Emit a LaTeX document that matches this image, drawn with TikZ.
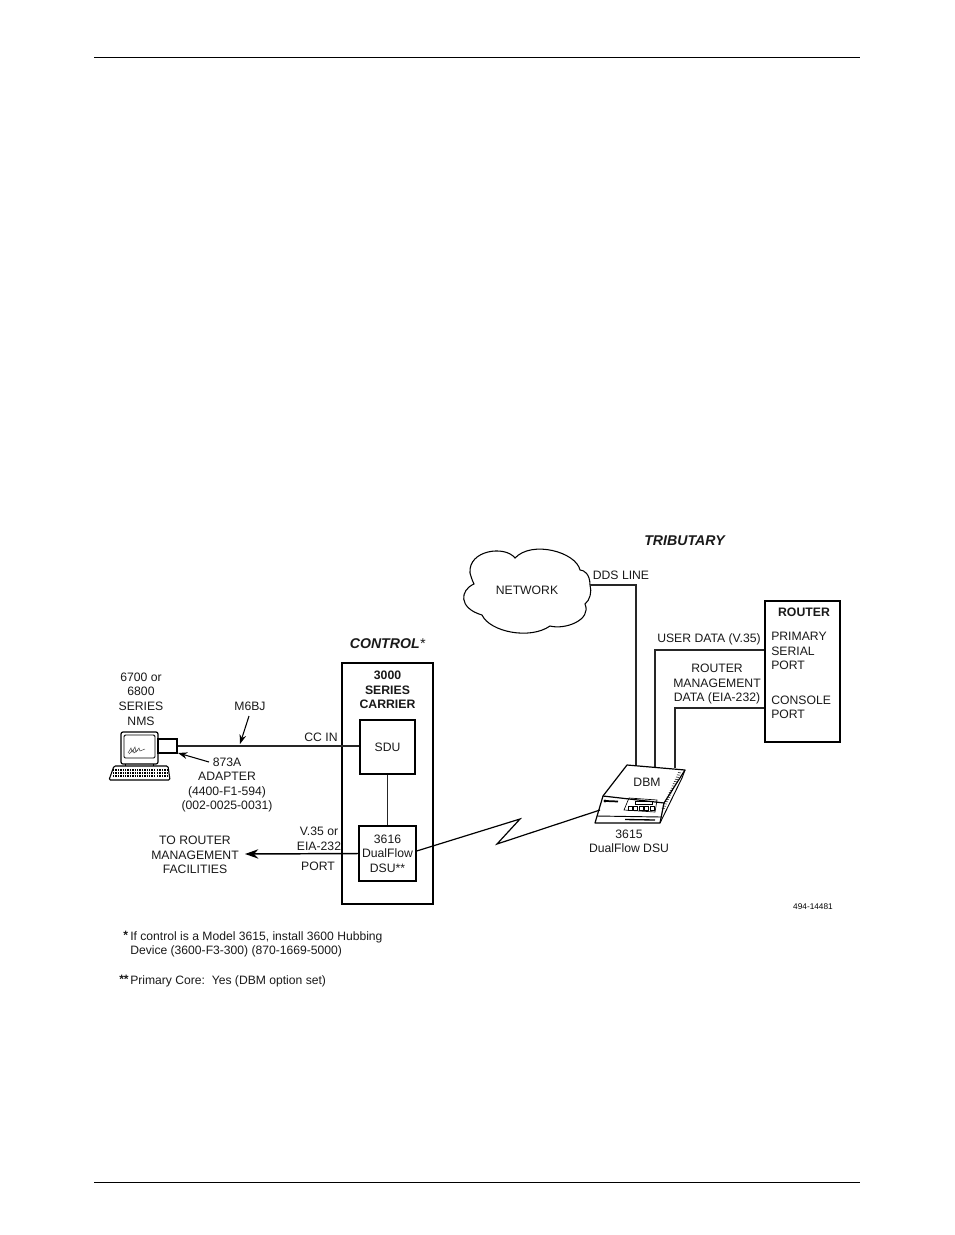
\documentclass[tikz,border=0pt]{standalone}
\usepackage{fontspec}
\setmainfont{Liberation Sans}
\usetikzlibrary{arrows.meta,calc}
\tikzset{
  x=0.75pt,y=-0.75pt,
  lab/.style={inner sep=0pt,align=center,font=\fontsize{9.15pt}{10.9pt}\selectfont,text=black!90},
  labl/.style={lab,align=left},
  note/.style={inner sep=0pt,anchor=north west,align=left,font=\fontsize{9.1pt}{10.6pt}\selectfont,text=black!90},
  small/.style={inner sep=0pt,font=\fontsize{6.2pt}{7pt}\selectfont},
  boxn/.style={draw,line width=1pt,inner sep=0pt},
  wire/.style={draw,line width=1.1pt,draw=black!85},
  rulet/.style={draw,line width=0.7pt},
  arr/.style={-{Stealth[length=7pt,width=5pt]},line width=0.8pt},
  arrb/.style={-{Stealth[length=10pt,width=7pt]},line width=1.1pt},
  title/.style={lab,font=\fontsize{10.6pt}{12pt}\selectfont\bfseries\itshape},
  boldl/.style={lab,font=\fontsize{9.2pt}{10.9pt}\selectfont\bfseries},
}
\begin{document}
\begin{tikzpicture}
\useasboundingbox (0,0) rectangle (954,1235);
\coordinate (tl) at (94,57); \coordinate (tr) at (860,57);
\coordinate (bl) at (94,1182); \coordinate (br) at (860,1182);
\draw[rulet] (tl) -- (tr);
\draw[rulet] (bl) -- (br);

% titles
\node[title] (trib) at (684.5,541) {TRIBUTARY};
\node[title] (ctrl) at (387.5,644) {CONTROL\textmd{*}};

% cloud
\coordinate (cloudout) at (590,585);
\draw[line width=0.8pt] (cloudout)
  .. controls (590,574) and (584,570) .. (580,570)
  .. controls (576,552) and (532,540) .. (515,558)
  .. controls (505,545) and (468,550) .. (470,573)
  .. controls (472,580) and (473,582) .. (474,584)
  .. controls (460,590) and (458,608) .. (482,615)
  .. controls (490,632) and (530,640) .. (550,626)
  .. controls (565,630) and (592,620) .. (585,604)
  .. controls (590,600) and (592,592) .. (590,585) -- cycle;
\node[lab] (net) at (527,590) {NETWORK};
\node[lab] (dds) at (621,575) {DDS LINE};

% router
\node[draw,line width=1.2pt,inner sep=0pt,minimum width=56.25pt,minimum height=105.75pt] (routerbox) at (802.5,671.5) {};
\node[boldl] (router) at (804,612) {ROUTER};
\node[labl,anchor=west] (pri) at (771,651) {PRIMARY\\SERIAL\\PORT};
\node[labl,anchor=west] (con) at (771,707.5) {CONSOLE\\PORT};
\node[lab] (ud) at (709,639) {USER DATA (V.35)};
\node[lab] (rm) at (717,684) {ROUTER\\MANAGEMENT\\DATA (EIA-232)};

% connections behind the DBM
\coordinate (dbmA) at (636,767);
\coordinate (dbmB) at (655,767);
\coordinate (dbmC) at (675,768);
\draw[wire] (cloudout) -| (dbmA);
\draw[wire] (dbmB) |- (routerbox.west |- 0,650);
\draw[wire] (dbmC) |- (routerbox.west |- 0,708);

% DBM device
\coordinate (dbmL) at (600,810);
\draw[line width=0.9pt,fill=white,line join=round] (627,765) -- (685,770) -- (664,803) -- (660,823) -- (595,823) -- (603,796) -- cycle;
\draw[line width=0.9pt] (603,796) -- (664,803);
\draw[line width=0.7pt] (685,770) -- (682,778) -- (660,823);
\draw[line width=0.7pt] (597,816) -- (661,817);
\foreach \t in {0,0.06,...,1.01}{\draw[line width=0.4pt] ($(681,773)!\t!(664,810)$) -- ++(-3,-0.5);}
\draw[line width=1.3pt] (606,801) -- (618,801.5);
\fill (605,801) circle (1.6);
\draw[line width=0.5pt] (629,798) -- (657,800) -- (655,812) -- (624,810) -- cycle;
\draw[line width=0.6pt] (635,801) rectangle (652,804);
\foreach \i in {0,1,2,3,4}{\draw[line width=0.5pt] ({628+5.5*\i},806.5) rectangle ++(4,3.5);}
\draw[line width=1pt] (625,819.5) -- (655,820);
\node[lab] (dbm) at (647,782) {DBM};
\node[lab] (d3615) at (629,841.5) {3615\\DualFlow DSU};

% carrier
\node[draw,line width=1.5pt,inner sep=0pt,minimum width=68.25pt,minimum height=180.75pt] (carrier) at (387.5,783.5) {};
\node[boldl,anchor=north] (cart) at (387.5,671) {3000\\SERIES\\CARRIER};
\node[boxn,minimum width=41.25pt,minimum height=40.5pt] (sdu) at (387.5,747) {};
\node[lab] at (sdu) {SDU};
\node[boxn,minimum width=42.75pt,minimum height=41.25pt] (dsu) at (387.5,853.5) {};
\node[lab] at (dsu) {3616\\DualFlow\\DSU**};
\node[lab] (v35) at (319,839) {V.35 or\\EIA-232};
\node[lab] (port) at (318,866) {PORT};
\node[lab] (ccin) at (321,737) {CC IN};
\node[lab] (tor) at (195,855) {TO ROUTER\\MANAGEMENT\\FACILITIES};
\coordinate (toarrow) at (245,854);
\draw[arrb] (dsu.west) -- (toarrow);
\draw[wire,line width=1.3pt] (sdu) -- (dsu);

% computer
\draw[line width=0.9pt,rounded corners=1.5pt] (121,732) rectangle (158,764);
\draw[line width=0.7pt,rounded corners=1pt] (124,735) rectangle (155,758);
\draw[line width=0.4pt,black!70] (128,753) -- (131,748) -- (132,752) -- (135,747) -- (136,752) -- (139,748) -- (140,751) -- (145,749);
\draw[line width=0.4pt,black!70] (129,754) -- (133,750) -- (134,753) -- (138,750);
\draw[line width=0.7pt] (125,764) -- (125,766) (153,764) -- (153,766);
\draw[line width=0.8pt,rounded corners=1pt] (114,766) -- (168,766) -- (170,780) -- (109,780) -- cycle;
\foreach \r in {770,773,776}{\draw[line width=1.5pt,dash pattern=on 1pt off 0.8pt] (113,\r) -- (154,\r) (157,\r) -- (167,\r);}
\node[boxn,line width=0.9pt,minimum width=14.25pt,minimum height=10.5pt] (adapter) at (167.5,746) {};
\node[lab] (nms) at (141,699) {6700 or\\6800\\SERIES\\NMS};
\node[lab] (m6bj) at (250,706) {M6BJ};
\node[lab] (a873) at (227,785) {873A\\ADAPTER\\(4400-F1-594)\\(002-0025-0031)};
\coordinate (m6a) at (249,716);
\coordinate (m6b) at (240,744);
\coordinate (ada) at (209,762);
\coordinate (adb) at (178,753);
\draw[arr] (m6a) -- (m6b);
\draw[arr] (ada) -- (adb);
\draw[wire] (adapter.east) -- (adapter.east -| sdu.west);

% lightning link
\coordinate (z1) at (520,819); \coordinate (z2) at (497,844);
\draw[line width=0.9pt] (dsu.east |- 0,851) -- (z1) -- (z2) -- (dbmL);

% notes
\node[note] (n1) at (130,931) {If control is a Model 3615, install 3600 Hubbing\\Device (3600-F3-300) (870-1669-5000)};
\node[note,font=\fontsize{9.1pt}{10.6pt}\selectfont\bfseries] (s1) at (123,931) {*};
\node[note] (n2) at (130,975) {Primary Core:\ \ Yes (DBM option set)};
\node[note,font=\fontsize{9.1pt}{10.6pt}\selectfont\bfseries] (s2) at (119,975) {**};
\node[small] (code) at (813,907) {494-14481};
\end{tikzpicture}
\end{document}
